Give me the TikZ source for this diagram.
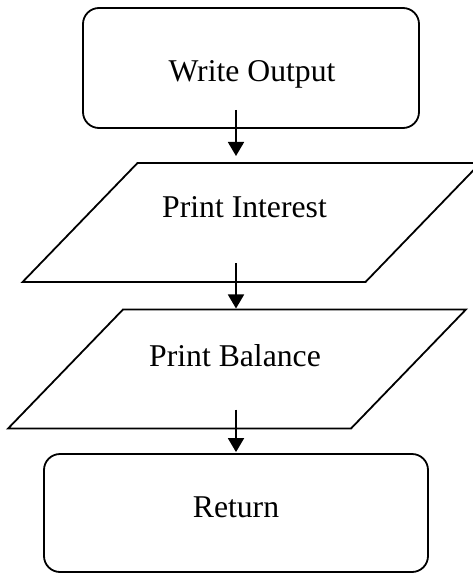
\documentclass[tikz,border=0pt]{standalone}
\usepackage{fontspec}
\setmainfont{Liberation Serif}
\usepackage{tikz}
\usetikzlibrary{positioning,arrows.meta,shapes.geometric}

\begin{document}
\begin{tikzpicture}[x=1pt, y=1pt,
			font=\fontsize{31.7}{38}\selectfont,
			termbox/.style={draw, rectangle, rounded corners=16pt, line width=1.8pt},
			iobox/.style={draw, trapezium, trapezium left angle=46, trapezium right angle=134, line width=1.8pt, inner xsep=114pt, inner ysep=59.5pt, outer sep=0pt},
			arrow/.style={-{Triangle[width=16pt, length=14pt]}, line width=1.8pt}]
			
			\useasboundingbox (0,0) rectangle (473,-573);
			
			\node[termbox, minimum width=336pt, minimum height=120pt, label={[xshift=1pt, yshift=-6pt]center:Write Output}] (wo) at (251,-68) {};
			\node[iobox, label={[xshift=-7pt, yshift=15.5pt]center:Print Interest}] (pi) at (251.5,-222.5) {};
			\node[iobox, label={[xshift=-2pt, yshift=13pt]center:Print Balance}] (pb) at (237,-369) {};
			\node[termbox, minimum width=384pt, minimum height=118pt, label={[yshift=5.5pt]center:Return}] (ret) at (236,-513) {};
			
			\draw[arrow] ([xshift=-15pt, yshift=19pt]wo.south) -- ([xshift=-15.5pt, yshift=7pt]pi.north);
			\draw[arrow] ([xshift=-15.5pt, yshift=19pt]pi.south) -- ([xshift=-1pt, yshift=1pt]pb.north);
			\draw[arrow] ([xshift=-1pt, yshift=19pt]pb.south) -- ([yshift=1pt]ret.north);
			
		\end{tikzpicture}
\end{document}
